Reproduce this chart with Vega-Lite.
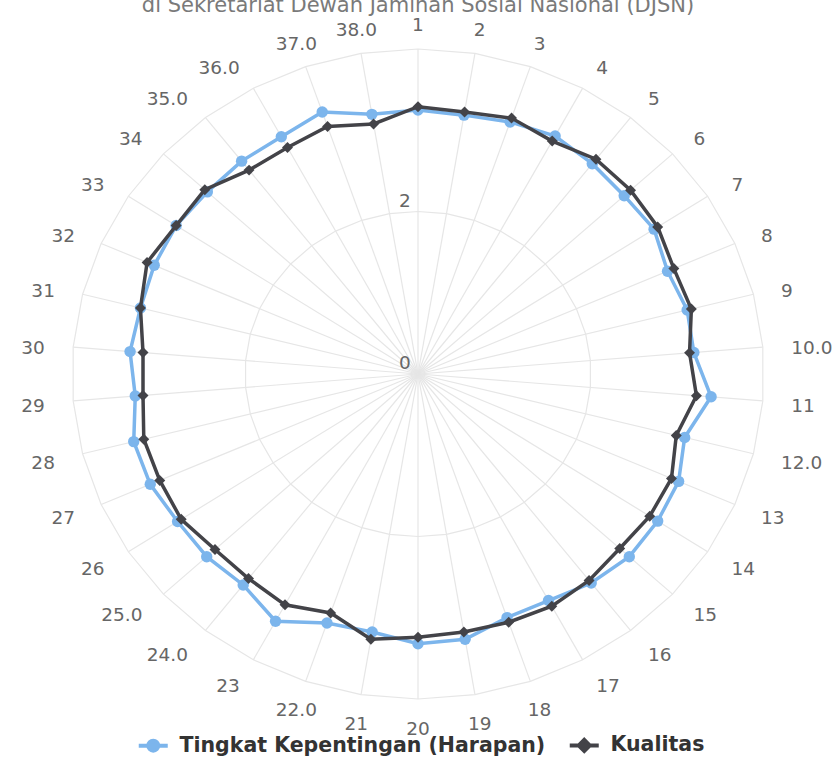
{
  "$schema": "https://vega.github.io/schema/vega-lite/v6.json",
  "width": 692,
  "height": 650,
  "autosize": "none",
  "padding": {"left": 72, "top": 49, "right": 71, "bottom": 60},
  "background": "#ffffff",
  "title": {"text": "di Sekretariat Dewan Jaminan Sosial Nasional (DJSN)", "font": "DejaVu Sans", "fontSize": 21, "fontWeight": "normal", "color": "#7a7a7a", "anchor": "middle", "baseline": "alphabetic", "offset": -17},
  "config": {"view": {"stroke": null}},
  "datasets": {
    "cats": [
      {"i": 1, "label": "1", "Tingkat Kepentingan (Harapan)": 3.25, "Kualitas": 3.29},
      {"i": 2, "label": "2", "Tingkat Kepentingan (Harapan)": 3.23, "Kualitas": 3.27},
      {"i": 3, "label": "3", "Tingkat Kepentingan (Harapan)": 3.28, "Kualitas": 3.33},
      {"i": 4, "label": "4", "Tingkat Kepentingan (Harapan)": 3.33, "Kualitas": 3.26},
      {"i": 5, "label": "5", "Tingkat Kepentingan (Harapan)": 3.28, "Kualitas": 3.35},
      {"i": 6, "label": "6", "Tingkat Kepentingan (Harapan)": 3.24, "Kualitas": 3.34},
      {"i": 7, "label": "7", "Tingkat Kepentingan (Harapan)": 3.26, "Kualitas": 3.31},
      {"i": 8, "label": "8", "Tingkat Kepentingan (Harapan)": 3.15, "Kualitas": 3.23},
      {"i": 9, "label": "9", "Tingkat Kepentingan (Harapan)": 3.21, "Kualitas": 3.26},
      {"i": 10, "label": "10.0", "Tingkat Kepentingan (Harapan)": 3.2, "Kualitas": 3.15},
      {"i": 11, "label": "11", "Tingkat Kepentingan (Harapan)": 3.4, "Kualitas": 3.23},
      {"i": 12, "label": "12.0", "Tingkat Kepentingan (Harapan)": 3.18, "Kualitas": 3.08},
      {"i": 13, "label": "13", "Tingkat Kepentingan (Harapan)": 3.29, "Kualitas": 3.2},
      {"i": 14, "label": "14", "Tingkat Kepentingan (Harapan)": 3.31, "Kualitas": 3.2},
      {"i": 15, "label": "15", "Tingkat Kepentingan (Harapan)": 3.32, "Kualitas": 3.17},
      {"i": 16, "label": "16", "Tingkat Kepentingan (Harapan)": 3.26, "Kualitas": 3.22},
      {"i": 17, "label": "17", "Tingkat Kepentingan (Harapan)": 3.17, "Kualitas": 3.25},
      {"i": 18, "label": "18", "Tingkat Kepentingan (Harapan)": 3.17, "Kualitas": 3.23},
      {"i": 19, "label": "19", "Tingkat Kepentingan (Harapan)": 3.31, "Kualitas": 3.22},
      {"i": 20, "label": "20", "Tingkat Kepentingan (Harapan)": 3.32, "Kualitas": 3.24},
      {"i": 21, "label": "21", "Tingkat Kepentingan (Harapan)": 3.22, "Kualitas": 3.31},
      {"i": 22, "label": "22.0", "Tingkat Kepentingan (Harapan)": 3.24, "Kualitas": 3.11},
      {"i": 23, "label": "23", "Tingkat Kepentingan (Harapan)": 3.46, "Kualitas": 3.23},
      {"i": 24, "label": "24.0", "Tingkat Kepentingan (Harapan)": 3.29, "Kualitas": 3.19},
      {"i": 25, "label": "25.0", "Tingkat Kepentingan (Harapan)": 3.32, "Kualitas": 3.19},
      {"i": 26, "label": "26", "Tingkat Kepentingan (Harapan)": 3.32, "Kualitas": 3.27},
      {"i": 27, "label": "27", "Tingkat Kepentingan (Harapan)": 3.38, "Kualitas": 3.26},
      {"i": 28, "label": "28", "Tingkat Kepentingan (Harapan)": 3.39, "Kualitas": 3.27},
      {"i": 29, "label": "29", "Tingkat Kepentingan (Harapan)": 3.28, "Kualitas": 3.19},
      {"i": 30, "label": "30", "Tingkat Kepentingan (Harapan)": 3.34, "Kualitas": 3.19},
      {"i": 31, "label": "31", "Tingkat Kepentingan (Harapan)": 3.31, "Kualitas": 3.31},
      {"i": 32, "label": "32", "Tingkat Kepentingan (Harapan)": 3.33, "Kualitas": 3.42},
      {"i": 33, "label": "33", "Tingkat Kepentingan (Harapan)": 3.34, "Kualitas": 3.34},
      {"i": 34, "label": "34", "Tingkat Kepentingan (Harapan)": 3.31, "Kualitas": 3.35},
      {"i": 35, "label": "35.0", "Tingkat Kepentingan (Harapan)": 3.32, "Kualitas": 3.18},
      {"i": 36, "label": "36.0", "Tingkat Kepentingan (Harapan)": 3.32, "Kualitas": 3.17},
      {"i": 37, "label": "37.0", "Tingkat Kepentingan (Harapan)": 3.41, "Kualitas": 3.22},
      {"i": 38, "label": "38.0", "Tingkat Kepentingan (Harapan)": 3.24, "Kualitas": 3.12}
    ],
    "ticks": [{"t": 0}, {"t": 2}]
  },
  "layer": [
    {
      "data": {"name": "cats"},
      "transform": [
        {"calculate": "(datum.i - 1) * 2 * PI / 38", "as": "th"},
        {"calculate": "0", "as": "cx"},
        {"calculate": "4 * sin(datum.th)", "as": "ex"},
        {"calculate": "4 * cos(datum.th)", "as": "ey"}
      ],
      "mark": {"type": "rule", "stroke": "#e6e6e6", "strokeWidth": 1.2},
      "encoding": {
        "x": {"field": "cx", "type": "quantitative", "scale": {"domain": [-4, 4], "nice": false, "zero": false}, "axis": null},
        "y": {"field": "cx", "type": "quantitative", "scale": {"domain": [-4, 4], "nice": false, "zero": false}, "axis": null},
        "x2": {"field": "ex"},
        "y2": {"field": "ey"}
      }
    },
    {
      "data": {"name": "cats"},
      "transform": [
        {"calculate": "(datum.i - 1) * 2 * PI / 38", "as": "th"},
        {"calculate": "2 * sin(datum.th)", "as": "gx"},
        {"calculate": "2 * cos(datum.th)", "as": "gy"}
      ],
      "mark": {"type": "line", "interpolate": "linear-closed", "stroke": "#e6e6e6", "strokeWidth": 1.2},
      "encoding": {
        "x": {"field": "gx", "type": "quantitative", "scale": {"domain": [-4, 4], "nice": false, "zero": false}, "axis": null},
        "y": {"field": "gy", "type": "quantitative", "scale": {"domain": [-4, 4], "nice": false, "zero": false}, "axis": null},
        "order": {"field": "i", "type": "quantitative"}
      }
    },
    {
      "data": {"name": "cats"},
      "transform": [
        {"calculate": "(datum.i - 1) * 2 * PI / 38", "as": "th"},
        {"calculate": "4 * sin(datum.th)", "as": "gx"},
        {"calculate": "4 * cos(datum.th)", "as": "gy"}
      ],
      "mark": {"type": "line", "interpolate": "linear-closed", "stroke": "#e6e6e6", "strokeWidth": 1.2},
      "encoding": {
        "x": {"field": "gx", "type": "quantitative", "scale": {"domain": [-4, 4], "nice": false, "zero": false}, "axis": null},
        "y": {"field": "gy", "type": "quantitative", "scale": {"domain": [-4, 4], "nice": false, "zero": false}, "axis": null},
        "order": {"field": "i", "type": "quantitative"}
      }
    },
    {
      "data": {"name": "ticks"},
      "transform": [{"calculate": "0", "as": "cx"}],
      "mark": {"type": "text", "align": "center", "baseline": "middle", "dx": -13, "dy": -11, "font": "DejaVu Sans", "fontSize": 18.5, "fill": "#666666"},
      "encoding": {
        "x": {"field": "cx", "type": "quantitative", "scale": {"domain": [-4, 4], "nice": false, "zero": false}, "axis": null},
        "y": {"field": "t", "type": "quantitative", "scale": {"domain": [-4, 4], "nice": false, "zero": false}, "axis": null},
        "text": {"field": "t", "type": "quantitative"}
      }
    },
    {
      "data": {"name": "cats"},
      "transform": [
        {"calculate": "(datum.i - 1) * 360 / 38", "as": "deg"},
        {"calculate": "datum.deg * PI / 180", "as": "th"},
        {"calculate": "4.33 * sin(datum.th)", "as": "lx"},
        {"calculate": "4.33 * cos(datum.th)", "as": "ly"},
        {"filter": "datum.deg <= 20 || datum.deg >= 340 || (datum.deg >= 160 && datum.deg <= 200)"}
      ],
      "mark": {"type": "text", "align": "center", "baseline": "middle", "dy": 3, "font": "DejaVu Sans", "fontSize": 18.5, "fill": "#666666"},
      "encoding": {
        "x": {"field": "lx", "type": "quantitative", "scale": {"domain": [-4, 4], "nice": false, "zero": false}, "axis": null},
        "y": {"field": "ly", "type": "quantitative", "scale": {"domain": [-4, 4], "nice": false, "zero": false}, "axis": null},
        "text": {"field": "label", "type": "nominal"}
      }
    },
    {
      "data": {"name": "cats"},
      "transform": [
        {"calculate": "(datum.i - 1) * 360 / 38", "as": "deg"},
        {"calculate": "datum.deg * PI / 180", "as": "th"},
        {"calculate": "4.33 * sin(datum.th)", "as": "lx"},
        {"calculate": "4.33 * cos(datum.th)", "as": "ly"},
        {"filter": "datum.deg > 20 && datum.deg < 160"}
      ],
      "mark": {"type": "text", "align": "left", "baseline": "middle", "dy": 3, "font": "DejaVu Sans", "fontSize": 18.5, "fill": "#666666"},
      "encoding": {
        "x": {"field": "lx", "type": "quantitative", "scale": {"domain": [-4, 4], "nice": false, "zero": false}, "axis": null},
        "y": {"field": "ly", "type": "quantitative", "scale": {"domain": [-4, 4], "nice": false, "zero": false}, "axis": null},
        "text": {"field": "label", "type": "nominal"}
      }
    },
    {
      "data": {"name": "cats"},
      "transform": [
        {"calculate": "(datum.i - 1) * 360 / 38", "as": "deg"},
        {"calculate": "datum.deg * PI / 180", "as": "th"},
        {"calculate": "4.33 * sin(datum.th)", "as": "lx"},
        {"calculate": "4.33 * cos(datum.th)", "as": "ly"},
        {"filter": "datum.deg > 200 && datum.deg < 340"}
      ],
      "mark": {"type": "text", "align": "right", "baseline": "middle", "dy": 3, "font": "DejaVu Sans", "fontSize": 18.5, "fill": "#666666"},
      "encoding": {
        "x": {"field": "lx", "type": "quantitative", "scale": {"domain": [-4, 4], "nice": false, "zero": false}, "axis": null},
        "y": {"field": "ly", "type": "quantitative", "scale": {"domain": [-4, 4], "nice": false, "zero": false}, "axis": null},
        "text": {"field": "label", "type": "nominal"}
      }
    },
    {
      "data": {"name": "cats"},
      "transform": [
        {"fold": ["Tingkat Kepentingan (Harapan)", "Kualitas"], "as": ["series", "v"]},
        {"filter": "datum.series === 'Tingkat Kepentingan (Harapan)'"},
        {"calculate": "(datum.i - 1) * 2 * PI / 38", "as": "th"},
        {"calculate": "datum.v * sin(datum.th)", "as": "px"},
        {"calculate": "datum.v * cos(datum.th)", "as": "py"}
      ],
      "mark": {"type": "line", "interpolate": "linear-closed", "strokeWidth": 3.5},
      "encoding": {
        "x": {"field": "px", "type": "quantitative", "scale": {"domain": [-4, 4], "nice": false, "zero": false}, "axis": null},
        "y": {"field": "py", "type": "quantitative", "scale": {"domain": [-4, 4], "nice": false, "zero": false}, "axis": null},
        "order": {"field": "i", "type": "quantitative"},
        "color": {"field": "series", "type": "nominal", "scale": {"domain": ["Tingkat Kepentingan (Harapan)", "Kualitas"], "range": ["#7cb5ec", "#434348"]},
          "legend": {"title": null, "orient": "none", "legendX": 71, "legendY": 686, "direction": "horizontal", "padding": 0,
            "labelFont": "DejaVu Sans", "labelFontSize": 20.5, "labelFontWeight": "bold", "labelColor": "#333333", "labelOffset": 16, "labelLimit": 600, "columnPadding": 15, "symbolSize": 100,
            "encode": {"symbols": {"update": {
              "shape": {"signal": "datum.value === 'Kualitas' ? 'M-2.9,0L2.9,0M0,-1.1L1.1,0L0,1.1L-1.1,0Z' : 'M-2.9,0L2.9,0M1,0A1,1 0 1,1 -1,0A1,1 0 1,1 1,0Z'"},
              "fill": {"scale": "color", "field": "value"},
              "stroke": {"scale": "color", "field": "value"},
              "strokeWidth": {"value": 4},
              "opacity": {"value": 1}
            }}}}}
      }
    },
    {
      "data": {"name": "cats"},
      "transform": [
        {"fold": ["Tingkat Kepentingan (Harapan)", "Kualitas"], "as": ["series", "v"]},
        {"filter": "datum.series === 'Tingkat Kepentingan (Harapan)'"},
        {"calculate": "(datum.i - 1) * 2 * PI / 38", "as": "th"},
        {"calculate": "datum.v * sin(datum.th)", "as": "px"},
        {"calculate": "datum.v * cos(datum.th)", "as": "py"}
      ],
      "mark": {"type": "point", "shape": "circle", "filled": true, "opacity": 1, "size": 130},
      "encoding": {
        "x": {"field": "px", "type": "quantitative", "scale": {"domain": [-4, 4], "nice": false, "zero": false}, "axis": null},
        "y": {"field": "py", "type": "quantitative", "scale": {"domain": [-4, 4], "nice": false, "zero": false}, "axis": null},
        "color": {"field": "series", "type": "nominal", "scale": {"domain": ["Tingkat Kepentingan (Harapan)", "Kualitas"], "range": ["#7cb5ec", "#434348"]}}
      }
    },
    {
      "data": {"name": "cats"},
      "transform": [
        {"fold": ["Tingkat Kepentingan (Harapan)", "Kualitas"], "as": ["series", "v"]},
        {"filter": "datum.series === 'Kualitas'"},
        {"calculate": "(datum.i - 1) * 2 * PI / 38", "as": "th"},
        {"calculate": "datum.v * sin(datum.th)", "as": "px"},
        {"calculate": "datum.v * cos(datum.th)", "as": "py"}
      ],
      "mark": {"type": "line", "interpolate": "linear-closed", "strokeWidth": 3.5},
      "encoding": {
        "x": {"field": "px", "type": "quantitative", "scale": {"domain": [-4, 4], "nice": false, "zero": false}, "axis": null},
        "y": {"field": "py", "type": "quantitative", "scale": {"domain": [-4, 4], "nice": false, "zero": false}, "axis": null},
        "order": {"field": "i", "type": "quantitative"},
        "color": {"field": "series", "type": "nominal", "scale": {"domain": ["Tingkat Kepentingan (Harapan)", "Kualitas"], "range": ["#7cb5ec", "#434348"]}}
      }
    },
    {
      "data": {"name": "cats"},
      "transform": [
        {"fold": ["Tingkat Kepentingan (Harapan)", "Kualitas"], "as": ["series", "v"]},
        {"filter": "datum.series === 'Kualitas'"},
        {"calculate": "(datum.i - 1) * 2 * PI / 38", "as": "th"},
        {"calculate": "datum.v * sin(datum.th)", "as": "px"},
        {"calculate": "datum.v * cos(datum.th)", "as": "py"}
      ],
      "mark": {"type": "point", "shape": "diamond", "filled": true, "opacity": 1, "size": 120},
      "encoding": {
        "x": {"field": "px", "type": "quantitative", "scale": {"domain": [-4, 4], "nice": false, "zero": false}, "axis": null},
        "y": {"field": "py", "type": "quantitative", "scale": {"domain": [-4, 4], "nice": false, "zero": false}, "axis": null},
        "color": {"field": "series", "type": "nominal", "scale": {"domain": ["Tingkat Kepentingan (Harapan)", "Kualitas"], "range": ["#7cb5ec", "#434348"]}}
      }
    }
  ]
}
